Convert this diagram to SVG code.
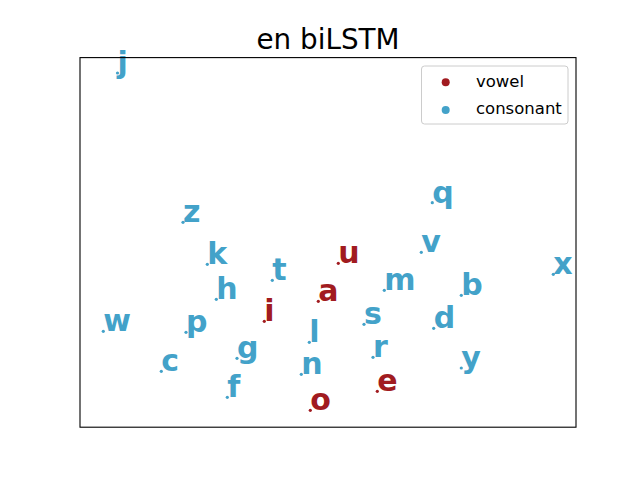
<svg xmlns="http://www.w3.org/2000/svg" width="640" height="480" viewBox="0 0 640 480">
<style>
.lbl{font-family:"DejaVu Sans",sans-serif;font-weight:bold;font-size:30px}
.v{fill:#a11b20}
.c{fill:#43a2c9}
.leg{font-family:"DejaVu Sans",sans-serif;font-size:16.5px;fill:#000}
</style>
<rect width="640" height="480" fill="#ffffff"/>
<text x="328" y="49" text-anchor="middle" font-family="DejaVu Sans, sans-serif" font-size="27.8px" fill="#000">en biLSTM</text>
<g id="connectors"></g>
<g id="points">
<g id="node-j"><circle class="c" cx="117.5" cy="73" r="1.6"/><text class="lbl c" x="117.5" y="73">j</text></g>
<g id="node-z"><circle class="c" cx="183" cy="222.3" r="1.6"/><text class="lbl c" x="183" y="222.3">z</text></g>
<g id="node-q"><circle class="c" cx="432.3" cy="202.7" r="1.6"/><text class="lbl c" x="432.3" y="202.7">q</text></g>
<g id="node-k"><circle class="c" cx="207.3" cy="264.3" r="1.6"/><text class="lbl c" x="207.3" y="264.3">k</text></g>
<g id="node-v"><circle class="c" cx="421.3" cy="252.3" r="1.6"/><text class="lbl c" x="421.3" y="252.3">v</text></g>
<g id="node-u"><circle class="v" cx="338.3" cy="263.3" r="1.6"/><text class="lbl v" x="338.3" y="263.3">u</text></g>
<g id="node-x"><circle class="c" cx="553.3" cy="274.3" r="1.6"/><text class="lbl c" x="553.3" y="274.3">x</text></g>
<g id="node-t"><circle class="c" cx="272.3" cy="280.3" r="1.6"/><text class="lbl c" x="272.3" y="280.3">t</text></g>
<g id="node-m"><circle class="c" cx="384.3" cy="290.3" r="1.6"/><text class="lbl c" x="384.3" y="290.3">m</text></g>
<g id="node-b"><circle class="c" cx="461.3" cy="295.3" r="1.6"/><text class="lbl c" x="461.3" y="295.3">b</text></g>
<g id="node-h"><circle class="c" cx="216.3" cy="299.3" r="1.6"/><text class="lbl c" x="216.3" y="299.3">h</text></g>
<g id="node-a"><circle class="v" cx="318.3" cy="301.3" r="1.6"/><text class="lbl v" x="318.3" y="301.3">a</text></g>
<g id="node-i"><circle class="v" cx="264.3" cy="321.3" r="1.6"/><text class="lbl v" x="264.3" y="321.3">i</text></g>
<g id="node-s"><circle class="c" cx="364" cy="324.3" r="1.6"/><text class="lbl c" x="364" y="324.3">s</text></g>
<g id="node-d"><circle class="c" cx="433.7" cy="328.3" r="1.6"/><text class="lbl c" x="433.7" y="328.3">d</text></g>
<g id="node-w"><circle class="c" cx="103.3" cy="331.3" r="1.6"/><text class="lbl c" x="103.3" y="331.3">w</text></g>
<g id="node-p"><circle class="c" cx="186" cy="332.3" r="1.6"/><text class="lbl c" x="186" y="332.3">p</text></g>
<g id="node-l"><circle class="c" cx="309.3" cy="342.3" r="1.6"/><text class="lbl c" x="309.3" y="342.3">l</text></g>
<g id="node-r"><circle class="c" cx="373" cy="357.3" r="1.6"/><text class="lbl c" x="373" y="357.3">r</text></g>
<g id="node-g"><circle class="c" cx="237" cy="358.3" r="1.6"/><text class="lbl c" x="237" y="358.3">g</text></g>
<g id="node-y"><circle class="c" cx="461.3" cy="368" r="1.6"/><text class="lbl c" x="461.3" y="368">y</text></g>
<g id="node-c"><circle class="c" cx="161.3" cy="371.3" r="1.6"/><text class="lbl c" x="161.3" y="371.3">c</text></g>
<g id="node-n"><circle class="c" cx="301.3" cy="374.3" r="1.6"/><text class="lbl c" x="301.3" y="374.3">n</text></g>
<g id="node-f"><circle class="c" cx="227.3" cy="397.3" r="1.6"/><text class="lbl c" x="227.3" y="397.3">f</text></g>
<g id="node-e"><circle class="v" cx="377.3" cy="391.3" r="1.6"/><text class="lbl v" x="377.3" y="391.3">e</text></g>
<g id="node-o"><circle class="v" cx="310.3" cy="410.3" r="1.6"/><text class="lbl v" x="310.3" y="410.3">o</text></g>
</g>
<rect id="axes-frame" x="80" y="57.6" width="496" height="369.6" fill="none" stroke="#000" stroke-width="1.1"/>
<g id="legend">
<rect x="421.5" y="66" width="146.5" height="58" rx="3" ry="3" fill="#ffffff" fill-opacity="0.8" stroke="#cccccc" stroke-width="1"/>
<circle class="v" cx="445.7" cy="82.3" r="4"/>
<text class="leg" x="476" y="87">vowel</text>
<circle class="c" cx="445.7" cy="110" r="4"/>
<text class="leg" x="476" y="113.5">consonant</text>
</g>
</svg>
